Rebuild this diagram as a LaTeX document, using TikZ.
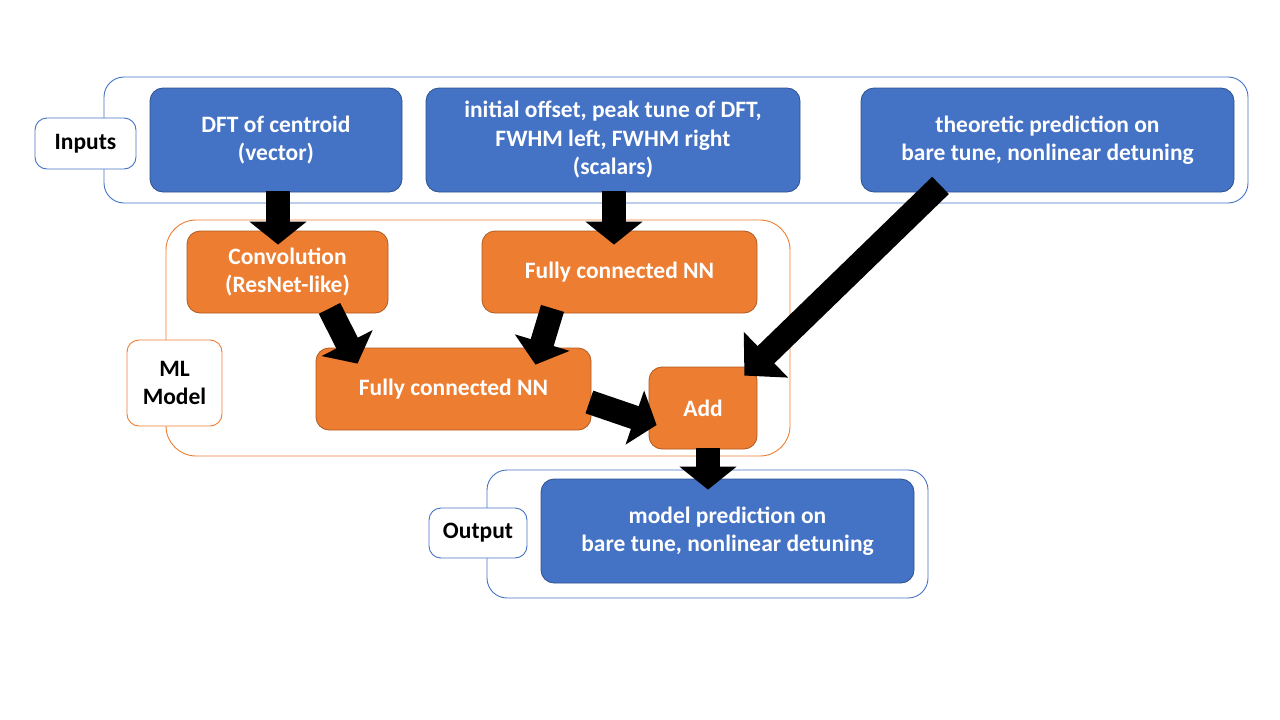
\documentclass[tikz,border=0pt]{standalone}
\usepackage{fontspec}
\setmainfont{Carlito}
\usetikzlibrary{arrows.meta}
\definecolor{bfill}{HTML}{4472C4}
\definecolor{bline}{HTML}{2F528F}
\definecolor{ofill}{HTML}{ED7D31}
\definecolor{oline}{HTML}{AE5A21}
\begin{document}
\begin{tikzpicture}[x=1pt,y=-1pt,
  txt/.style={font=\bfseries\fontsize{23.5}{28.5}\selectfont, align=center, inner sep=0pt},
  bluebox/.style={txt, draw=bline, fill=bfill, text=white, rounded corners=13pt, line width=0.8pt},
  orbox/.style={txt, draw=oline, fill=ofill, text=white, rounded corners=13pt, line width=0.8pt},
  outerblue/.style={draw=bfill, rounded corners=20pt, line width=0.9pt},
  outeror/.style={draw=ofill, rounded corners=30pt, line width=0.9pt},
  labbox/.style={txt, text=black, fill=white, rounded corners=12pt, line width=0.9pt},
  blockarrow/.style={line width=24pt, black, -{Triangle[width=56pt,length=23pt]}},
  bigarrow/.style={line width=24pt, black, -{Triangle[width=62pt,length=30pt]}}
]
\useasboundingbox (0,0) rectangle (1280,720);
% outer boxes
\draw[outerblue] (104,77) rectangle (1248,203);
\draw[outeror] (166,220) rectangle (790,456);
\draw[outerblue] (487,470) rectangle (928,598);
% labels
\node[labbox, draw=bfill, minimum width=101pt, minimum height=51pt] (inputs) at (85.5,143.5) {Inputs};
\node[labbox, draw=ofill, minimum width=95pt, minimum height=86pt] (ml) at (174.5,383) {ML\\Model};
\node[labbox, draw=bfill, minimum width=98pt, minimum height=50pt] (outlab) at (478,533) {Output};
% input boxes
\node[bluebox, minimum width=252pt, minimum height=104pt] (dft) at (276,140) {DFT of centroid\\(vector)};
\node[bluebox, minimum width=374pt, minimum height=104pt] (mid) at (613,140) {initial offset, peak tune of DFT,\\FWHM left, FWHM right\\(scalars)};
\node[bluebox, minimum width=373pt, minimum height=104pt] (theo) at (1047.5,140) {theoretic prediction on\\bare tune, nonlinear detuning};
% ML boxes
\node[orbox, minimum width=201pt, minimum height=82pt] (conv) at (287.5,272) {Convolution\\(ResNet-like)};
\node[orbox, minimum width=275pt, minimum height=82pt] (fca) at (619.5,272) {Fully connected NN};
\node[orbox, minimum width=275pt, minimum height=82pt] (fcb) at (453.5,389) {Fully connected NN};
\node[orbox, minimum width=108pt, minimum height=82pt] (add) at (703,408) {Add};
% output box
\node[bluebox, minimum width=373pt, minimum height=104pt] (out) at (727.5,531) {model prediction on\\bare tune, nonlinear detuning};
% arrows
\draw[blockarrow] ([xshift=2pt,yshift=1pt]dft.south) -- ([xshift=-9.5pt,yshift=-14pt]conv.north);
\draw[blockarrow] ([xshift=1pt,yshift=1pt]mid.south) -- ([xshift=-5.5pt,yshift=-14pt]fca.north);
\draw[blockarrow] ([xshift=42pt,yshift=5pt]conv.south) -- ([xshift=-96pt,yshift=-16pt]fcb.north);
\draw[blockarrow] ([xshift=-67pt,yshift=5pt]fca.south) -- ([xshift=82pt,yshift=-17pt]fcb.north);
\draw[blockarrow] ([xshift=-2pt,yshift=-13pt]fcb.east) -- ([xshift=8pt,yshift=-17pt]add.west);
\draw[bigarrow] ([xshift=-107pt,yshift=7pt]theo.south) -- ([xshift=-13pt,yshift=-9pt]add.north east);
\draw[blockarrow] ([xshift=5pt,yshift=1pt]add.south) -- ([xshift=-19.5pt,yshift=-11pt]out.north);
\end{tikzpicture}
\end{document}
